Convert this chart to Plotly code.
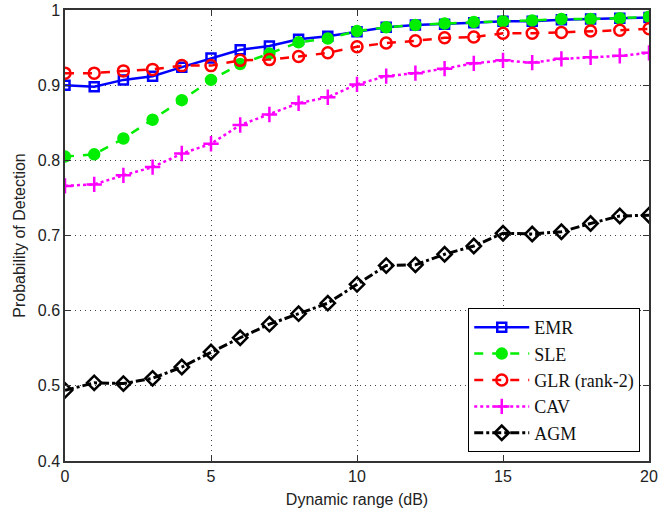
import plotly.graph_objects as go

x_db = list(range(21))
emr = [0.900, 0.898, 0.907, 0.912, 0.924, 0.936, 0.947, 0.952, 0.961, 0.965, 0.971,
       0.977, 0.980, 0.981, 0.983, 0.985, 0.985, 0.987, 0.988, 0.989, 0.990]
sle = [0.805, 0.808, 0.829, 0.854, 0.880, 0.907, 0.928, 0.942, 0.957, 0.962, 0.972,
       0.977, 0.980, 0.982, 0.984, 0.985, 0.986, 0.988, 0.988, 0.989, 0.991]
glr = [0.916, 0.916, 0.919, 0.921, 0.926, 0.926, 0.933, 0.934, 0.938, 0.943, 0.951,
       0.956, 0.959, 0.963, 0.964, 0.969, 0.969, 0.970, 0.972, 0.973, 0.975]
cav = [0.766, 0.768, 0.780, 0.791, 0.809, 0.822, 0.847, 0.861, 0.876, 0.884, 0.901,
       0.912, 0.916, 0.922, 0.929, 0.933, 0.930, 0.935, 0.937, 0.939, 0.943]
agm = [0.494, 0.504, 0.503, 0.510, 0.525, 0.545, 0.564, 0.582, 0.596, 0.610, 0.635,
       0.660, 0.661, 0.675, 0.686, 0.703, 0.702, 0.705, 0.716, 0.726, 0.727]

series = [
    ("EMR", emr, "#0000ff", "solid", 2.5, "square-open", 9),
    ("SLE", sle, "#00ee00", "dash", 2.5, "circle", 10),
    ("GLR (rank-2)", glr, "#ff0000", "dash", 2.5, "circle-open", 11),
    ("CAV", cav, "#ff00ff", "dot", 2.5, "cross-thin-open", 11),
    ("AGM", agm, "#000000", "dashdot", 3, "diamond-open", 11),
]

fig = go.Figure()
for name, ys, col, dash, w, sym, sz in series:
    fig.add_trace(go.Scatter(
        x=x_db, y=ys, name=name, mode="lines+markers",
        line=dict(color=col, dash=dash, width=w),
        marker=dict(symbol=sym, size=sz, color=col, line=dict(color=col, width=2.5)),
    ))

axis_common = dict(
    showline=True, linecolor="#333333", linewidth=1.5, mirror="ticks",
    ticks="inside", ticklen=6, tickcolor="#333333",
    showgrid=True, gridcolor="#444444", griddash="1px,4px", gridwidth=1,
    zeroline=False, automargin=False,
    tickfont=dict(family="Liberation Sans, Arial", size=16, color="#222222"),
    title_font=dict(family="Liberation Sans, Arial", size=16, color="#222222"),
)

fig.update_layout(
    width=659, height=514,
    margin=dict(l=65, r=10, t=10, b=53),
    plot_bgcolor="white", paper_bgcolor="white",
    showlegend=True,
    legend=dict(
        x=0.985, y=0.02, xanchor="right", yanchor="bottom",
        bordercolor="#000000", borderwidth=1, bgcolor="white",
        font=dict(family="Liberation Serif, Times New Roman", size=18, color="#111111"),
        tracegroupgap=0, itemwidth=55,
    ),
)
fig.update_xaxes(range=[0, 20], dtick=5, title_text="Dynamic range (dB)",
                 title_standoff=10, **axis_common)
fig.update_yaxes(range=[0.4, 1.0], dtick=0.1, tickformat=".1~f",
                 title_text="Probability of Detection", title_standoff=8, **axis_common)

fig.write_html("out.html", config={"displayModeBar": False},
               post_script="document.body.style.margin='0';document.body.style.overflow='hidden';")
